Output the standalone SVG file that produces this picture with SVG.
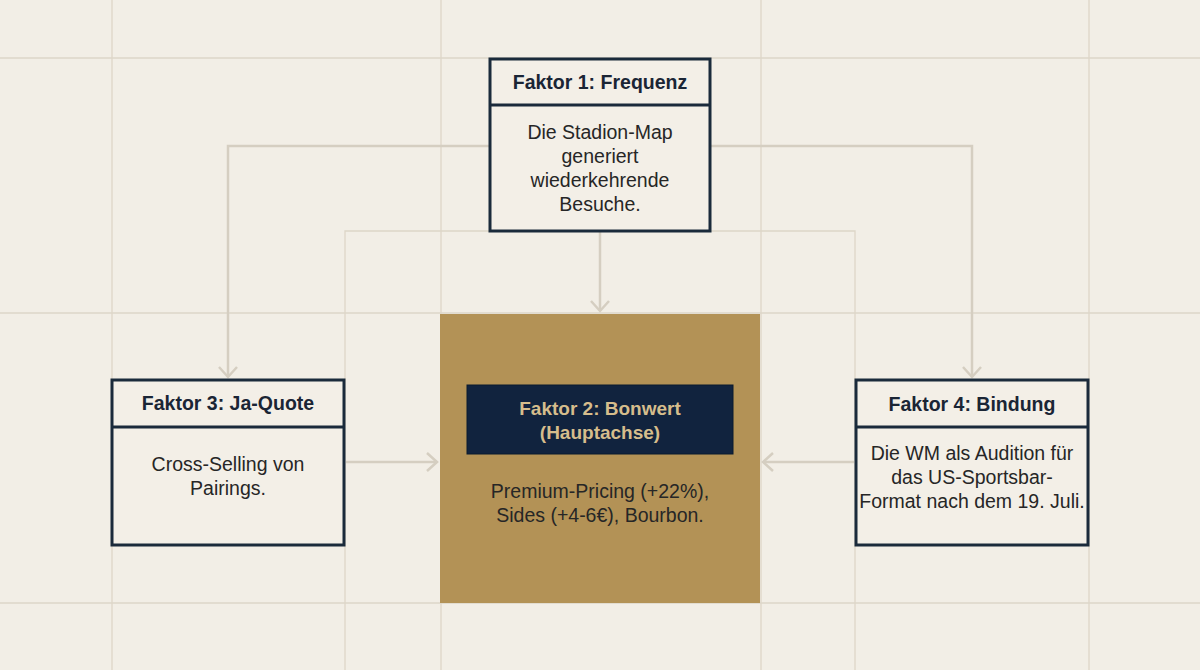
<svg xmlns="http://www.w3.org/2000/svg" width="1200" height="670" viewBox="0 0 1200 670">
  <style>
    .grid { stroke: #ddd6c8; stroke-width: 1.3; fill: none; }
    .conn { stroke: #d5cec1; stroke-width: 2.5; fill: none; }
    .box { fill: #f3efe7; stroke: #1a2a3b; stroke-width: 3; }
    .div { stroke: #1a2a3b; stroke-width: 3; }
    .title { font-family: "Liberation Sans", Arial, sans-serif; font-weight: bold; font-size: 19.5px; fill: #1a2535; text-anchor: middle; }
    .body { font-family: "Liberation Sans", Arial, sans-serif; font-size: 19.5px; fill: #262626; text-anchor: middle; }
    .gtitle { font-family: "Liberation Sans", Arial, sans-serif; font-weight: bold; font-size: 19px; fill: #d6bd8c; text-anchor: middle; }
  </style>
  <defs>
    <marker id="arr" markerUnits="userSpaceOnUse" markerWidth="24" markerHeight="24" refX="11" refY="10" orient="auto">
      <path d="M1,1 L11,10 L1,19" fill="none" stroke="#d5cec1" stroke-width="2.5"/>
    </marker>
  </defs>
  <rect x="0" y="0" width="1200" height="670" fill="#f2eee6"/>
  <g id="grid">
    <line class="grid" x1="112" y1="0" x2="112" y2="670"/>
    <line class="grid" x1="441" y1="0" x2="441" y2="670"/>
    <line class="grid" x1="761" y1="0" x2="761" y2="670"/>
    <line class="grid" x1="1089" y1="0" x2="1089" y2="670"/>
    <line class="grid" x1="0" y1="58" x2="1200" y2="58"/>
    <line class="grid" x1="0" y1="313" x2="1200" y2="313"/>
    <line class="grid" x1="0" y1="603" x2="1200" y2="603"/>
    <polyline class="grid" points="345,670 345,231 855,231 855,670"/>
  </g>
  <g id="connectors">
    <polyline class="conn" points="490,146 228,146 228,377" marker-end="url(#arr)"/>
    <polyline class="conn" points="710,146 972,146 972,377" marker-end="url(#arr)"/>
    <line class="conn" x1="600" y1="232" x2="600" y2="311" marker-end="url(#arr)"/>
    <line class="conn" x1="346" y1="462" x2="437" y2="462" marker-end="url(#arr)"/>
    <line class="conn" x1="854" y1="462" x2="763" y2="462" marker-end="url(#arr)"/>
  </g>
  <g id="faktor1">
    <rect class="box" x="490" y="59" width="220" height="172"/>
    <line class="div" x1="490" y1="105" x2="710" y2="105"/>
    <text class="title" x="600" y="89">Faktor 1: Frequenz</text>
    <text class="body" x="600" y="139">Die Stadion-Map</text>
    <text class="body" x="600" y="163">generiert</text>
    <text class="body" x="600" y="187">wiederkehrende</text>
    <text class="body" x="600" y="211">Besuche.</text>
  </g>
  <g id="faktor3">
    <rect class="box" x="112" y="380" width="232" height="165"/>
    <line class="div" x1="112" y1="427" x2="344" y2="427"/>
    <text class="title" x="228" y="410">Faktor 3: Ja-Quote</text>
    <text class="body" x="228" y="471">Cross-Selling von</text>
    <text class="body" x="228" y="495">Pairings.</text>
  </g>
  <g id="faktor4">
    <rect class="box" x="856" y="380" width="232" height="165"/>
    <line class="div" x1="856" y1="427" x2="1088" y2="427"/>
    <text class="title" x="972" y="411">Faktor 4: Bindung</text>
    <text class="body" x="972" y="460">Die WM als Audition für</text>
    <text class="body" x="972" y="484">das US-Sportsbar-</text>
    <text class="body" x="972" y="508">Format nach dem 19. Juli.</text>
  </g>
  <g id="faktor2">
    <rect x="440" y="314" width="320" height="289" fill="#b39256"/>
    <rect x="467" y="385" width="266" height="69" fill="#11233e" stroke="#0b1a2e" stroke-width="1"/>
    <text class="gtitle" x="600" y="415">Faktor 2: Bonwert</text>
    <text class="gtitle" x="600" y="439">(Hauptachse)</text>
    <text class="body" x="600" y="498">Premium-Pricing (+22%),</text>
    <text class="body" x="600" y="522">Sides (+4-6€), Bourbon.</text>
  </g>
</svg>
